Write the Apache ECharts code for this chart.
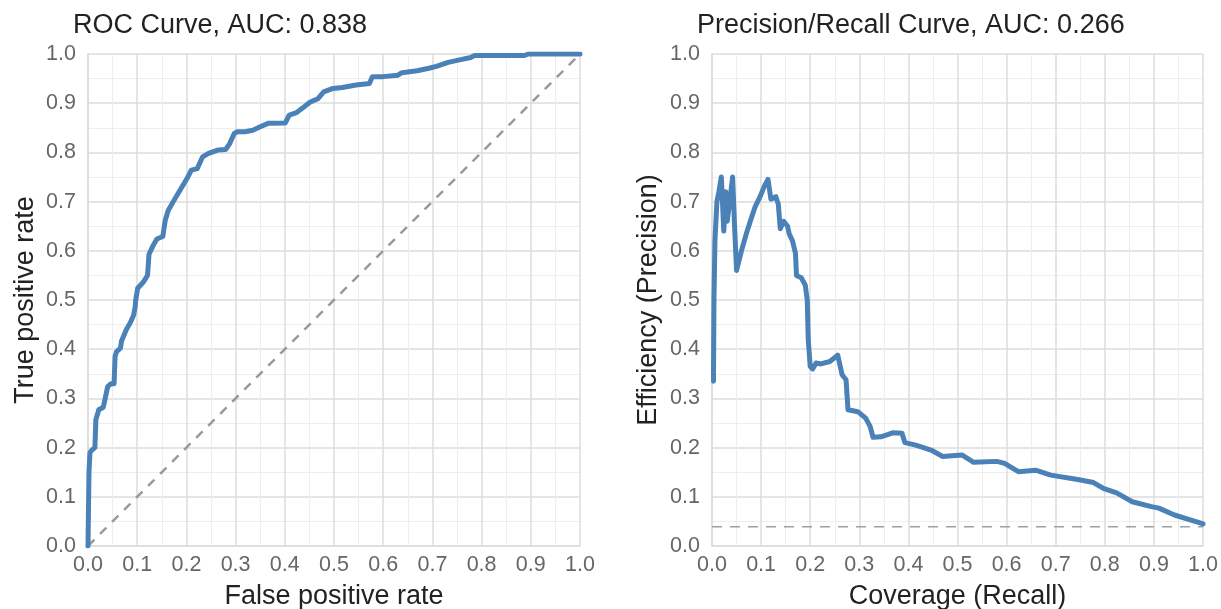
<!DOCTYPE html>
<html>
<head>
<meta charset="utf-8">
<script src="https://cdn.jsdelivr.net/npm/echarts@6/dist/echarts.min.js"></script>
<style>html,body{margin:0;padding:0;background:#fff}#c{width:1221px;height:609px}</style>
</head>
<body>
<div id="c"></div>
<script>
// ---- data ----
const rocX = [0,0.002,0.004,0.008,0.014,0.016,0.022,0.031,0.035,0.040,0.047,0.053,0.055,0.058,0.066,0.068,0.078,0.086,0.093,0.096,0.097,0.101,0.113,0.121,0.124,0.132,0.140,0.152,0.157,0.163,0.175,0.187,0.203,0.210,0.222,0.233,0.245,0.265,0.280,0.288,0.297,0.303,0.319,0.335,0.350,0.366,0.401,0.409,0.424,0.436,0.451,0.467,0.479,0.498,0.517,0.545,0.572,0.578,0.600,0.630,0.638,0.669,0.693,0.708,0.732,0.755,0.778,0.786,0.833,0.887,0.895,1.0];
const rocY = [0,0.150,0.190,0.195,0.200,0.257,0.277,0.282,0.300,0.324,0.330,0.330,0.385,0.395,0.402,0.416,0.440,0.454,0.470,0.487,0.500,0.524,0.537,0.550,0.593,0.610,0.624,0.629,0.662,0.682,0.703,0.723,0.750,0.764,0.767,0.791,0.798,0.805,0.806,0.818,0.838,0.842,0.842,0.845,0.852,0.859,0.860,0.876,0.881,0.890,0.902,0.909,0.923,0.930,0.932,0.937,0.940,0.954,0.954,0.957,0.962,0.966,0.971,0.975,0.983,0.988,0.993,0.997,0.997,0.997,1.0,1.0];
const diagX = [0, 1];
const diagY = [0, 1];

const prX = [0.003,0.004,0.006,0.010,0.014,0.019,0.024,0.028,0.031,0.036,0.042,0.046,0.050,0.060,0.070,0.078,0.088,0.098,0.106,0.114,0.120,0.130,0.135,0.139,0.146,0.154,0.157,0.164,0.170,0.172,0.182,0.190,0.194,0.196,0.200,0.205,0.212,0.222,0.240,0.256,0.265,0.273,0.277,0.297,0.313,0.322,0.328,0.344,0.368,0.387,0.393,0.415,0.446,0.470,0.509,0.533,0.580,0.596,0.624,0.659,0.690,0.745,0.777,0.797,0.824,0.856,0.895,0.910,0.942,0.974,0.994,1.0];
const prY = [0.335,0.500,0.620,0.700,0.720,0.750,0.640,0.720,0.660,0.700,0.750,0.650,0.560,0.600,0.635,0.660,0.690,0.710,0.730,0.745,0.705,0.710,0.695,0.645,0.660,0.650,0.635,0.620,0.595,0.550,0.545,0.530,0.500,0.420,0.365,0.360,0.372,0.370,0.375,0.388,0.348,0.338,0.277,0.273,0.260,0.243,0.221,0.222,0.230,0.229,0.210,0.205,0.195,0.182,0.185,0.170,0.172,0.168,0.151,0.154,0.144,0.135,0.129,0.117,0.108,0.090,0.080,0.077,0.063,0.053,0.047,0.045];
const baseX = [0, 1];
const baseY = [0.039, 0.039];

const tickLabels = ['0.0','0.1','0.2','0.3','0.4','0.5','0.6','0.7','0.8','0.9','1.0'];
const titles = ['ROC Curve, AUC: 0.838', 'Precision/Recall Curve, AUC: 0.266'];
const xNames = ['False positive rate', 'Coverage (Recall)'];
const yNames = ['True positive rate', 'Efficiency (Precision)'];

// ---- chart ----
const FONT = '"Liberation Sans", Arial, Helvetica, sans-serif';
const pair = (xs, ys) => xs.map((x, i) => [x, ys[i]]);
const fmt = v => tickLabels[Math.round(v * 10)];

function axis(name, gap, isX) {
  return {
    type: 'value', min: 0, max: 1, interval: 0.1,
    name: name, nameLocation: 'middle', nameGap: gap,
    nameTextStyle: { fontFamily: FONT, fontSize: 27, color: '#222' },
    axisLine: { show: true, lineStyle: { color: '#dcdcdc', width: 1.5 } },
    axisTick: { show: false },
    axisLabel: { fontFamily: FONT, fontSize: 21.5, color: '#666', margin: isX ? 8 : 12, formatter: fmt },
    splitLine: { show: true, lineStyle: { color: '#dcdcdc', width: 1.5 } },
    minorTick: { show: false, splitNumber: 2 },
    minorSplitLine: { show: true, lineStyle: { color: '#eeeeee', width: 1 } }
  };
}

const chart = echarts.init(document.getElementById('c'), null, { renderer: 'canvas' });
chart.setOption({
  animation: false,
  backgroundColor: '#fff',
  title: [
    { text: titles[0], left: 68, top: 7, textStyle: { fontFamily: FONT, fontSize: 27, fontWeight: 'normal', color: '#222' } },
    { text: titles[1], left: 692, top: 7, textStyle: { fontFamily: FONT, fontSize: 27, fontWeight: 'normal', color: '#222' } }
  ],
  grid: [
    { left: 88, top: 54, width: 492, height: 492, containLabel: false, outerBoundsMode: 'none' },
    { left: 712, top: 54, width: 491, height: 492, containLabel: false, outerBoundsMode: 'none' }
  ],
  xAxis: [
    Object.assign(axis(xNames[0], 37, true), { gridIndex: 0 }),
    Object.assign(axis(xNames[1], 37, true), { gridIndex: 1 })
  ],
  yAxis: [
    Object.assign(axis(yNames[0], 49, false), { gridIndex: 0 }),
    Object.assign(axis(yNames[1], 50, false), { gridIndex: 1 })
  ],
  series: [
    { type: 'line', xAxisIndex: 0, yAxisIndex: 0, data: pair(diagX, diagY), showSymbol: false, silent: true,
      lineStyle: { color: '#9a9a9a', width: 2.5, type: [9, 8] } },
    { type: 'line', xAxisIndex: 0, yAxisIndex: 0, data: pair(rocX, rocY), showSymbol: false,
      lineStyle: { color: '#4a81b6', width: 5, join: 'round', cap: 'round' } },
    { type: 'line', xAxisIndex: 1, yAxisIndex: 1, data: pair(baseX, baseY), showSymbol: false, silent: true,
      lineStyle: { color: '#a0a0a0', width: 1.5, type: [10, 8] } },
    { type: 'line', xAxisIndex: 1, yAxisIndex: 1, data: pair(prX, prY), showSymbol: false,
      lineStyle: { color: '#4a81b6', width: 5, join: 'round', cap: 'round' } }
  ]
});
</script>
</body>
</html>
